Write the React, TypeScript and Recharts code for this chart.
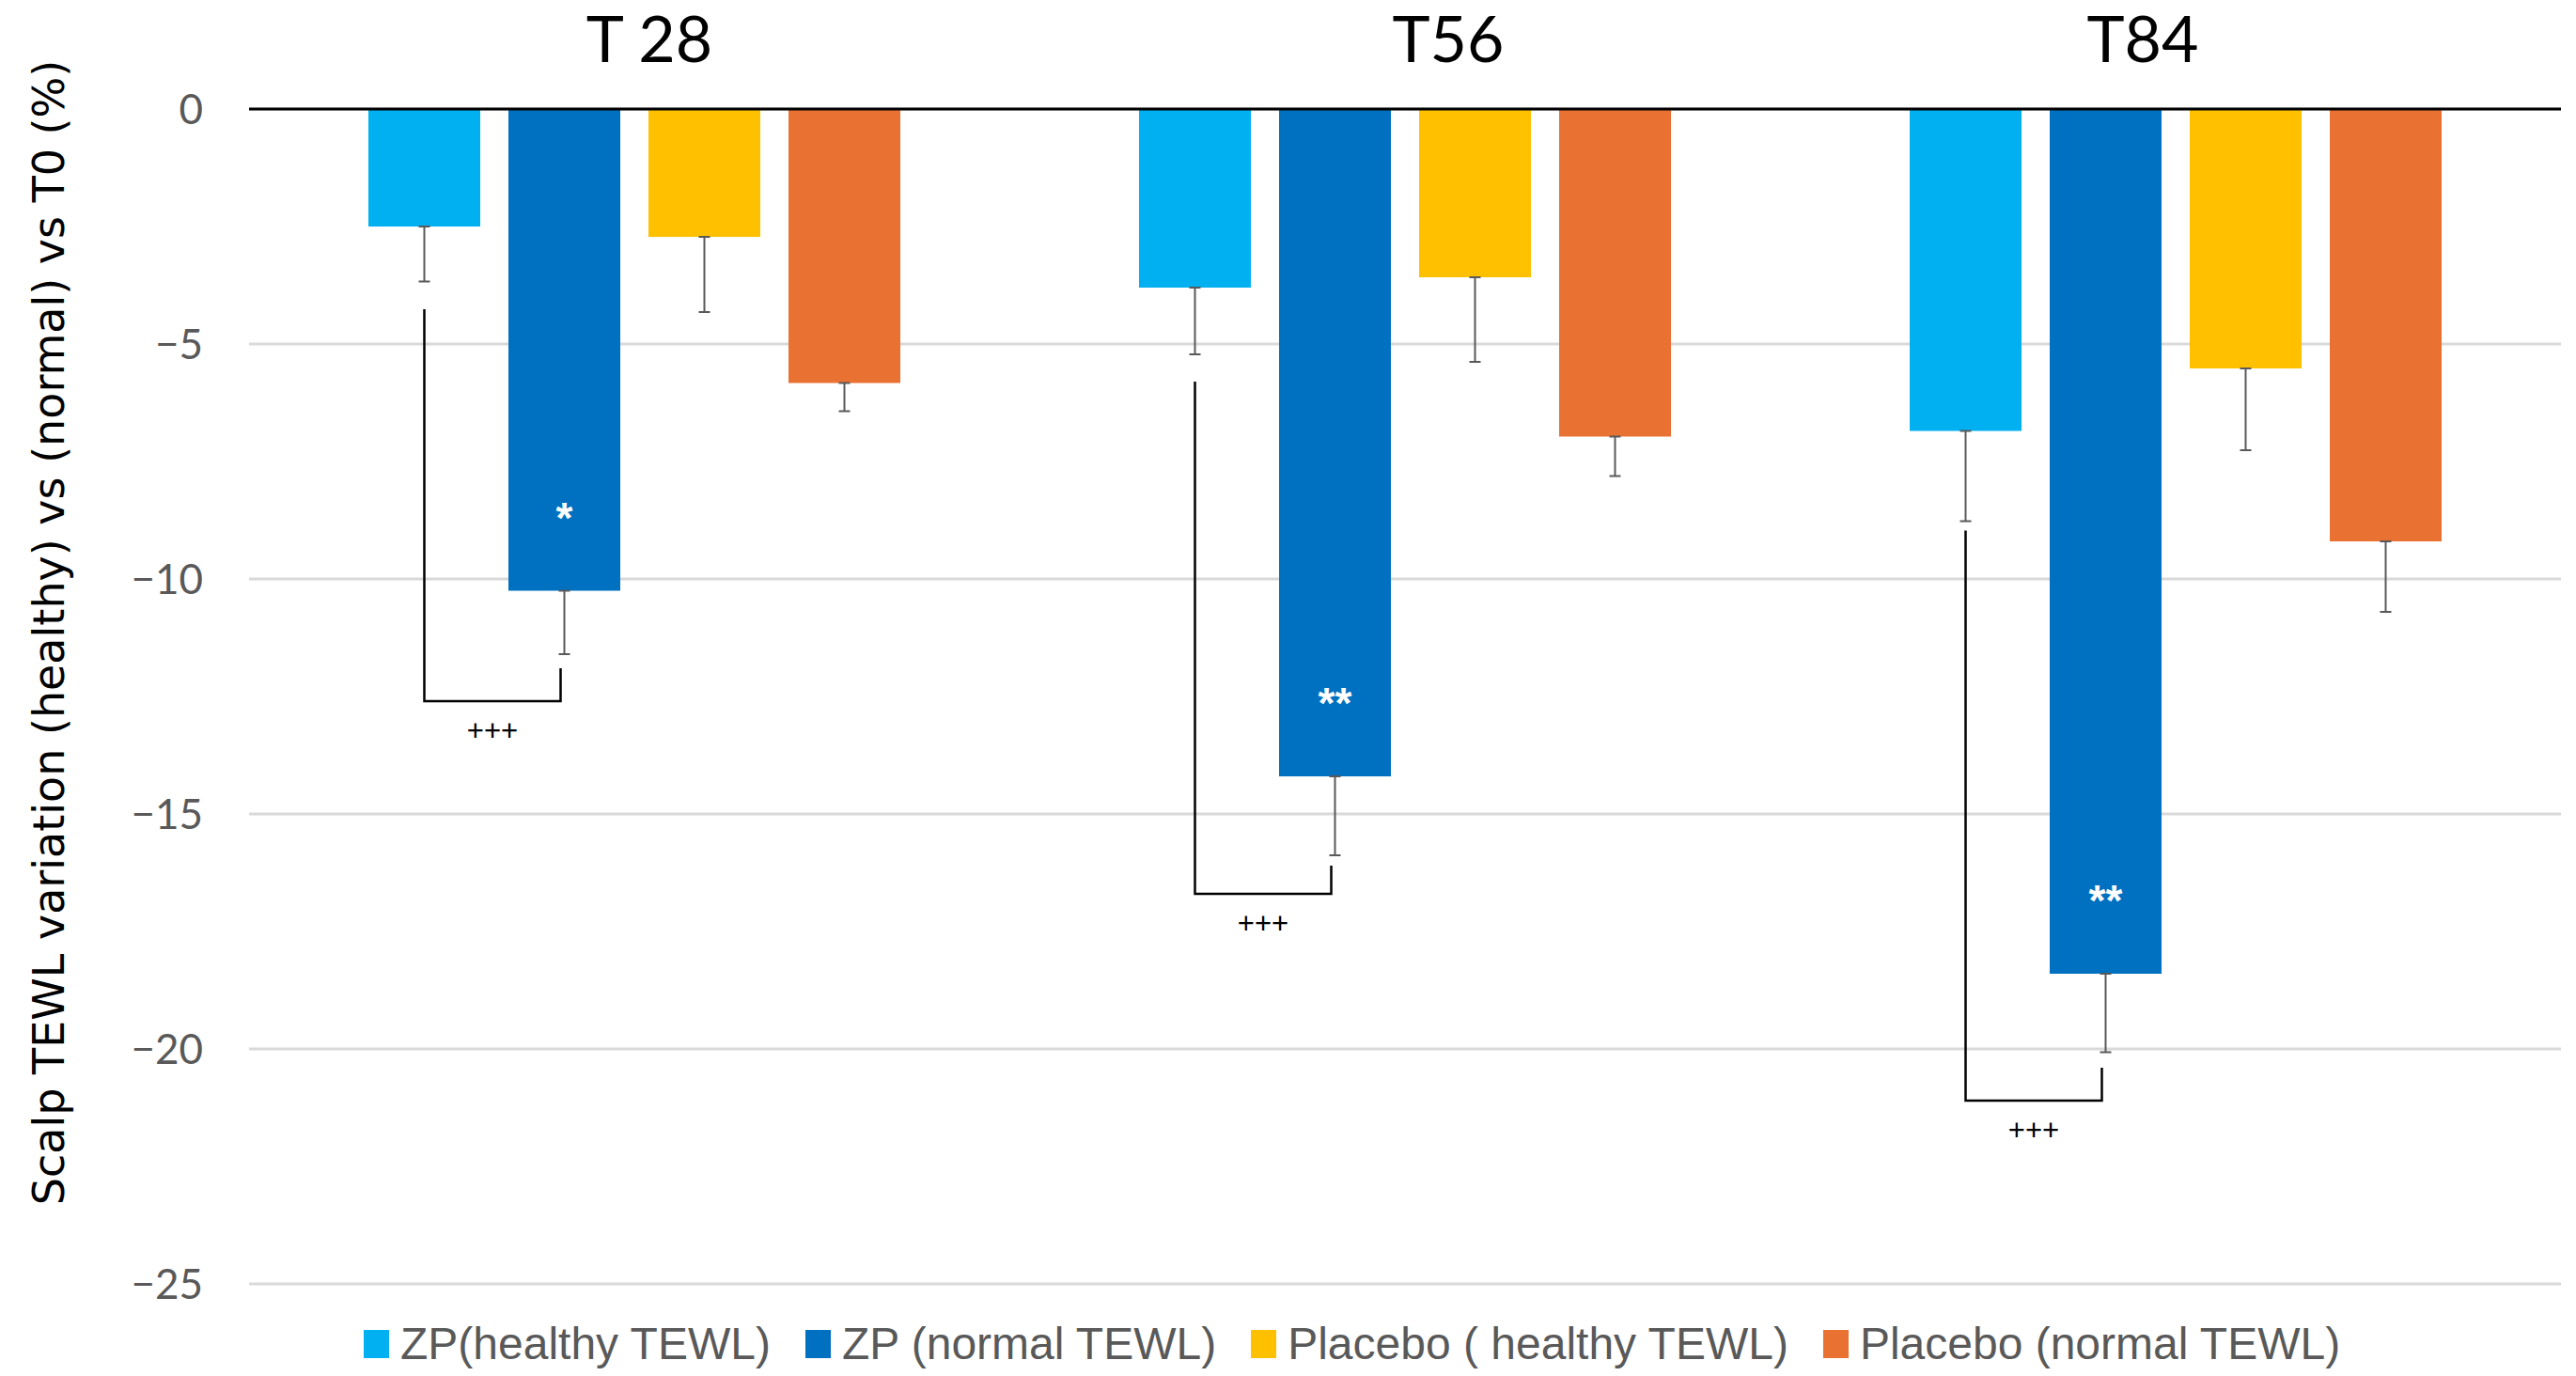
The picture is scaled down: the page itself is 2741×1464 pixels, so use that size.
import { BarChart, Bar, XAxis, YAxis, CartesianGrid, ReferenceLine, ErrorBar, LabelList, Legend } from 'recharts'

// time points (group titles)
const timepoints = ['T 28', 'T56', 'T84']

// variation vs T0 (%) and the (downward) error for each group
const zpHealthy = [-2.5, -3.8, -6.85]
const zpHealthyErr = [1.17, 1.42, 1.92]
const zpNormal = [-10.25, -14.2, -18.4]
const zpNormalErr = [1.35, 1.68, 1.67]
const placeboHealthy = [-2.72, -3.58, -5.52]
const placeboHealthyErr = [1.6, 1.8, 1.74]
const placeboNormal = [-5.83, -6.97, -9.2]
const placeboNormalErr = [0.6, 0.84, 1.5]

// significance marks
const zpNormalStars = ['*', '**', '**']
const bracketLeftTop = [-4.26, -5.8, -8.97]
const bracketBase = [-12.6, -16.7, -21.1]
const bracketRightTop = [-11.9, -16.1, -20.4]
const bracketMark = ['+++', '+++', '+++']

const yTicks = [0, -5, -10, -15, -20, -25]
const seriesNames = ['ZP(healthy TEWL)', 'ZP (normal TEWL)', 'Placebo ( healthy TEWL)', 'Placebo (normal TEWL)']
const seriesColors = ['#00B0F0', '#0070C0', '#FFC000', '#E97132']

const W = 2741
const H = 1464
const BAR_SIZE = 119
const BAR_GAP = 30
const titleDx = [16, 46, -35]

const data = timepoints.map((t, i) => ({
  time: t,
  zpH: zpHealthy[i],
  zpHErr: [zpHealthyErr[i], 0],
  zpN: zpNormal[i],
  zpNErr: [zpNormalErr[i], 0],
  plH: placeboHealthy[i],
  plHErr: [placeboHealthyErr[i], 0],
  plN: placeboNormal[i],
  plNErr: [placeboNormalErr[i], 0],
}))

const fmt = (v: number) => (v < 0 ? `\u2212${-v}` : `${v}`)

const TitleTick = (props: any) => {
  const { x, payload, index } = props
  return (
    <text x={x + titleDx[index]} y={66} textAnchor="middle" fontFamily="Lato" fontSize={68} fill="#000">
      {payload.value}
    </text>
  )
}

const YLabel = () => (
  <text
    x={52}
    y={673}
    transform="rotate(-90 52 673)"
    textAnchor="middle"
    dominantBaseline="central"
    fontFamily="DejaVu Sans"
    fontSize={46}
    fill="#000"
  >
    Scalp TEWL variation (healthy) vs (normal) vs T0 (%)
  </text>
)

// stars inside the ZP (normal) bar and the +++ bracket joining it to ZP (healthy)
const SigMarks = (props: any) => {
  const vb = props.viewBox && props.viewBox.width != null ? props.viewBox : props
  const { x, y, width, height } = vb
  const i = props.index
  const value = zpNormal[i]
  const top = Math.min(y, y + height)
  const bottom = Math.max(y, y + height)
  const k = (bottom - top) / Math.abs(value)
  const py = (v: number) => top - v * k
  const cx = x + width / 2
  const leftX = x - BAR_GAP - width / 2
  const rightX = cx - 4
  const baseY = py(bracketBase[i])
  return (
    <g>
      <text x={cx} y={bottom - 62} textAnchor="middle" fontFamily="Liberation Sans" fontWeight="bold" fontSize={46} fill="#fff">
        {zpNormalStars[i]}
      </text>
      <polyline
        points={`${leftX},${py(bracketLeftTop[i])} ${leftX},${baseY} ${rightX},${baseY} ${rightX},${py(bracketRightTop[i])}`}
        fill="none"
        stroke="#000"
        strokeWidth={2.5}
      />
      <text x={(leftX + rightX) / 2} y={baseY + 42} textAnchor="middle" fontFamily="Liberation Sans" fontSize={31} fill="#000">
        {bracketMark[i]}
      </text>
    </g>
  )
}

// legend in series order (Recharts would sort it by name otherwise)
const renderLegend = () => (
  <div style={{ display: 'flex', alignItems: 'center', fontFamily: 'Liberation Sans', fontSize: 48, color: '#595959', whiteSpace: 'nowrap' }}>
    {seriesNames.map((name, i) => (
      <div key={name} style={{ display: 'flex', alignItems: 'center', marginRight: 37 }}>
        <span style={{ display: 'inline-block', width: 27, height: 30, background: seriesColors[i], marginRight: 12 }} />
        <span>{name}</span>
      </div>
    ))}
  </div>
)

export default function App() {
  return (
    <div style={{ position: 'absolute', left: 0, top: 0, width: W, height: H, background: '#fff' }}>
      <BarChart
        width={W}
        height={H}
        data={data}
        margin={{ top: 36, right: 16, bottom: 98, left: 165 }}
        barSize={BAR_SIZE}
        barGap={BAR_GAP}
      >
        <CartesianGrid vertical={false} stroke="#D9D9D9" strokeWidth={3} />
        <XAxis
          dataKey="time"
          orientation="top"
          height={80}
          axisLine={false}
          tickLine={false}
          tick={<TitleTick />}
          interval={0}
        />
        <YAxis
          type="number"
          domain={[-25, 0]}
          ticks={yTicks}
          tickFormatter={fmt}
          axisLine={false}
          tickLine={false}
          tickSize={0}
          tickMargin={49}
          width={100}
          tick={{ fill: '#595959', fontSize: 44, fontFamily: 'Lato' }}
          label={<YLabel />}
        />
        <Legend
          verticalAlign="middle"
          align="center"
          layout="horizontal"
          content={renderLegend}
          wrapperStyle={{ left: 387, top: 1402, width: 'auto' }}
        />
        <Bar dataKey="zpH" name={seriesNames[0]} fill={seriesColors[0]} isAnimationActive={false}>
          <ErrorBar dataKey="zpHErr" stroke="#595959" strokeWidth={2} width={6} />
        </Bar>
        <Bar dataKey="zpN" name={seriesNames[1]} fill={seriesColors[1]} isAnimationActive={false}>
          <ErrorBar dataKey="zpNErr" stroke="#595959" strokeWidth={2} width={6} />
          <LabelList dataKey="zpN" content={<SigMarks />} />
        </Bar>
        <Bar dataKey="plH" name={seriesNames[2]} fill={seriesColors[2]} isAnimationActive={false}>
          <ErrorBar dataKey="plHErr" stroke="#595959" strokeWidth={2} width={6} />
        </Bar>
        <Bar dataKey="plN" name={seriesNames[3]} fill={seriesColors[3]} isAnimationActive={false}>
          <ErrorBar dataKey="plNErr" stroke="#595959" strokeWidth={2} width={6} />
        </Bar>
        <ReferenceLine y={0} stroke="#000" strokeWidth={3} />
      </BarChart>
    </div>
  )
}
